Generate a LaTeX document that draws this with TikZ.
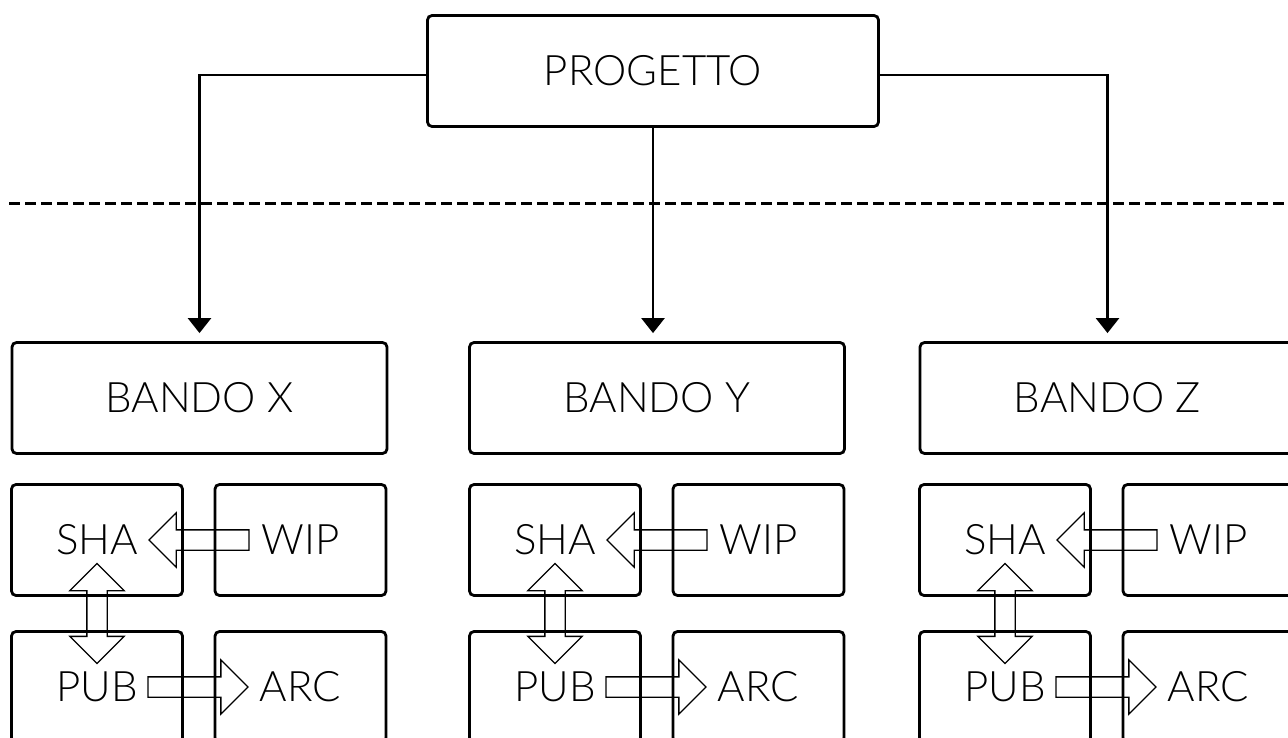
\documentclass[tikz,border=0pt]{standalone}
\usepackage{fontspec}
\setmainfont{Lato Light}
\usetikzlibrary{arrows.meta,calc,shapes.arrows}

\tikzset{
  box/.style={draw,line width=2.8pt,rounded corners=4.5pt,inner sep=0pt,
    font=\fontsize{42}{50}\selectfont},
  wide/.style={box,minimum width=375pt,minimum height=111pt},
  small/.style={box,minimum width=171pt,minimum height=111pt},
  link/.style={line width=2.6pt,-{Triangle[width=23pt,length=15pt]},shorten >=8pt},
  block/.style={draw,line width=1.3pt,outer sep=0pt,inner xsep=0pt,
    inner ysep=9.5pt,minimum height=100pt},
  sblock/.style={block,single arrow,single arrow head extend=17pt},
  dblock/.style={block,double arrow,double arrow head extend=17pt,rotate=90}
}

\begin{document}
\begin{tikzpicture}[x=1pt,y=-1pt]
  \useasboundingbox (0,0) rectangle (1288,738);

  \node[box,minimum width=451pt,minimum height=111pt] (progetto) at (653,71) {PROGETTO};
  \draw[line width=3pt,dash pattern=on 11pt off 5pt] (9,204) -- (1288,204);

  % bandi
  \node[wide] (bandox) at (199.5,398) {BANDO X};
  \node[wide] (bandoy) at (657,398) {BANDO Y};
  \node[wide] (bandoz) at (1107.5,398) {BANDO Z};

  \draw[link] ([yshift=-4pt]progetto.west) -| (bandox.north);
  \draw[link] (progetto.south) -- (progetto.south |- bandoy.north);
  \draw[link] ([yshift=-4pt]progetto.east) -| (bandoz.north);

  % stati, bando X
  \node[small] (shax) at (97,540) {SHA};
  \node[small] (wipx) at (300.5,540) {WIP};
  \node[small] (pubx) at (97,687) {PUB};
  \node[small] (arcx) at (300.5,687) {ARC};
  \node[sblock,rotate=180,anchor=tip] (wipshax) at ([xshift=52pt]shax.center) {};
  \node[dblock] (shapubx) at ($(shax)!0.5!(pubx)$) {};
  \node[sblock,anchor=tail] (pubarcx) at ([xshift=51pt]pubx.center) {};

  % stati, bando Y
  \node[small] (shay) at (555,540) {SHA};
  \node[small] (wipy) at (758.5,540) {WIP};
  \node[small] (puby) at (555,687) {PUB};
  \node[small] (arcy) at (758.5,687) {ARC};
  \node[sblock,rotate=180,anchor=tip] (wipshay) at ([xshift=52pt]shay.center) {};
  \node[dblock] (shapuby) at ($(shay)!0.5!(puby)$) {};
  \node[sblock,anchor=tail] (pubarcy) at ([xshift=51pt]puby.center) {};

  % stati, bando Z
  \node[small] (shaz) at (1005,540) {SHA};
  \node[small] (wipz) at (1208.5,540) {WIP};
  \node[small] (pubz) at (1005,687) {PUB};
  \node[small] (arcz) at (1208.5,687) {ARC};
  \node[sblock,rotate=180,anchor=tip] (wipshaz) at ([xshift=52pt]shaz.center) {};
  \node[dblock] (shapubz) at ($(shaz)!0.5!(pubz)$) {};
  \node[sblock,anchor=tail] (pubarcz) at ([xshift=51pt]pubz.center) {};
\end{tikzpicture}
\end{document}
